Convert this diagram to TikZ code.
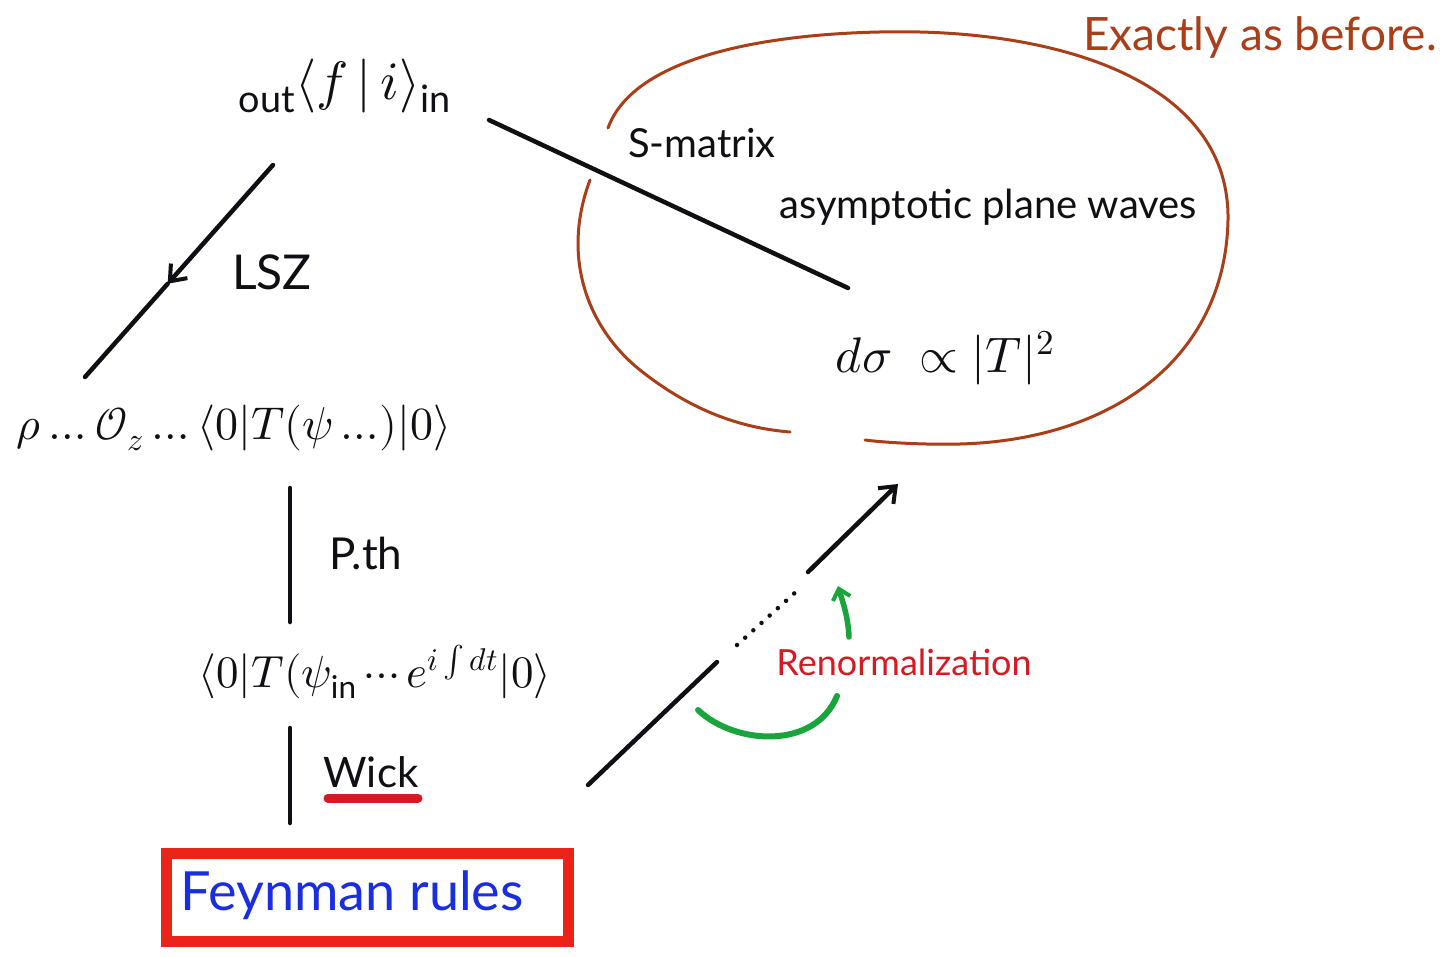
\documentclass[tikz,border=0pt]{standalone}
\usepackage{fontspec}
\usepackage{unicode-math}
\setmainfont{Lato}
\setmathfont{Latin Modern Math}
\usetikzlibrary{arrows.meta,calc}
\definecolor{ink}{RGB}{15,15,20}
\definecolor{rust}{RGB}{170,62,25}
\definecolor{marker}{RGB}{235,35,25}
\definecolor{penred}{RGB}{215,25,35}
\definecolor{penblue}{RGB}{25,45,225}
\definecolor{pengreen}{RGB}{25,165,60}
\newcommand{\fsz}[1]{\fontsize{#1}{#1}\selectfont}
\begin{document}
\begin{tikzpicture}[x=1pt,y=-1pt,
  pen/.style={ink,line width=4.5pt,line cap=round},
  rim/.style={rust,line width=3pt,line cap=round},
  txt/.style={inner sep=0pt,text=ink},
  head/.style={-{Straight Barb[length=14pt,width=22pt,line width=4pt]}}]
\useasboundingbox (0,0) rectangle (1454,956);
\fill[white] (0,0) rectangle (1454,956);

% formulas
\node[txt,font=\fsz{54}] (fi) at (345,86)
  {${}_{\mathrm{out}}\langle f\,|\,i\rangle_{\mathrm{in}}$};
\node[txt,font=\fsz{46}] (corr) at (234,428)
  {$\rho\ldots\mathcal{O}_{z}\ldots\langle 0|T(\psi\ldots)|0\rangle$};
\node[txt,font=\fsz{45}] (pert) at (375,672)
  {$\langle 0|T(\psi_{\mathrm{in}}\cdots e^{i\int dt}|0\rangle$};
\node[txt,font=\fsz{54}] (fr) at (352,895) {\textcolor{penblue}{Feynman rules}};
\draw[marker,line width=11pt] (166,853) rectangle (568,941);

% labels
\node[txt,font=\fsz{48}] (lsz) at (272,272) {LSZ};
\node[txt,font=\fsz{44}] (pth) at (366,553) {P.th};
\node[txt,font=\fsz{42}] (wick) at (371,772) {Wick};
\draw[penred,line width=9pt,line cap=round] (328,798) -- (418,798);
\node[txt,font=\fsz{40}] (smat) at (702,143) {S-matrix};
\node[txt,font=\fsz{40}] (apw) at (988,207) {asymptotic plane waves};
\node[txt,font=\fsz{50}] (dsig) at (945,358) {$d\sigma\ \propto |T|^{2}$};
\node[txt,font=\fsz{46},text=rust] (exact) at (1260,38) {Exactly as before.};
\node[txt,font=\fsz{36},text=penred] (renorm) at (904,662) {Renormalization};

% LSZ connector
\coordinate (a1) at (273,165);
\coordinate (a2) at (85,377);
\coordinate (am) at ($(a1)!0.56!(a2)$);
\draw[pen,head] (a1) -- (am);
\draw[pen] (am) -- (a2);

% vertical connectors
\coordinate (p1) at (290,488);
\coordinate (p2) at (290,622);
\draw[pen] (p1) -- (p2);
\coordinate (w1) at (290,728);
\coordinate (w2) at (290,823);
\draw[pen] (w1) -- (w2);

% S-matrix connector
\coordinate (s1) at (489,120);
\coordinate (s2) at (848,288);
\draw[pen] (s1) -- (s2);

% brown closed-off region
\coordinate (r1) at (608,128);
\coordinate (r2) at (865,440);
\coordinate (l1) at (590,180);
\coordinate (l2) at (790,432);
\draw[rim] (r1) .. controls (640,40) and (830,30) .. (920,32)
  .. controls (1080,36) and (1230,90) .. (1228,220)
  .. controls (1225,360) and (1110,440) .. (960,444)
  .. controls (920,445) and (880,442) .. (r2);
\draw[rim] (l1) .. controls (560,260) and (590,330) .. (640,370)
  .. controls (690,410) and (740,428) .. (l2);

% renormalization flow
\coordinate (q0) at (588,785);
\coordinate (q1) at (717,662);
\coordinate (q2) at (737,645);
\coordinate (q3) at (798,590);
\coordinate (q4) at (808,572);
\coordinate (q5) at (898,484);
\draw[pen] (q0) -- (q1);
\draw[ink,line width=4.5pt,line cap=round,dash pattern=on 0pt off 11pt] (q2) -- (q3);
\draw[pen,head] (q4) -- (q5);

% green arrows
\coordinate (g1) at (698,710);
\coordinate (g2) at (837,696);
\draw[pengreen,line width=6pt,line cap=round] (g1)
  .. controls (735,745) and (815,750) .. (g2);
\coordinate (g3) at (849,637);
\coordinate (g4) at (838,586);
\draw[pengreen,line width=5.5pt,line cap=round,
  -{Straight Barb[length=10pt,width=18pt,line width=4pt]}]
  (g3) .. controls (848,615) and (842,600) .. (g4);
\end{tikzpicture}
\end{document}
